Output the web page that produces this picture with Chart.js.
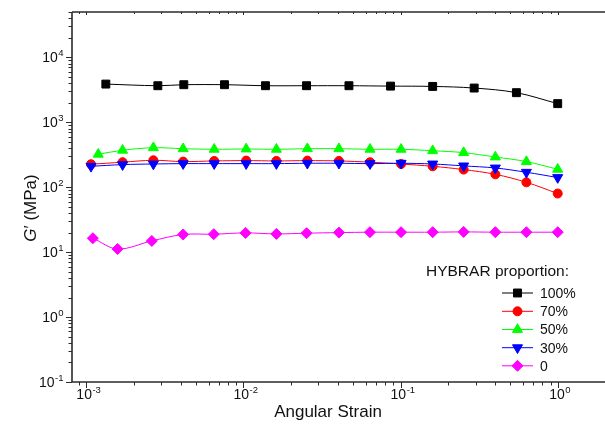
<!DOCTYPE html>
<html>
<head>
<meta charset="utf-8">
<script src="https://cdn.jsdelivr.net/npm/chart.js@4/dist/chart.umd.min.js"></script>
<style>
  html, body { margin: 0; padding: 0; background: #fff; }
  #wrap { width: 605px; height: 428px; }
</style>
</head>
<body>
<div id="wrap"><canvas id="chart" width="605" height="428"></canvas></div>
<script>
// ---- data ----
const seriesNames = ['100%', '70%', '50%', '30%', '0'];

const strain100 = [0.00133, 0.00285, 0.00417, 0.00757, 0.0138, 0.0252, 0.0469, 0.0863, 0.160, 0.294, 0.546, 1.0];
const g100 = [3880, 3660, 3795, 3795, 3660, 3660, 3660, 3610, 3570, 3370, 2860, 1940];

const strainMid = [0.00107, 0.00170, 0.00267, 0.00413, 0.00651, 0.0104, 0.0162, 0.0255, 0.0405, 0.0639, 0.1007, 0.160, 0.252, 0.401, 0.632, 1.0];
const g70 = [226, 243, 260, 248, 254, 257, 254, 257, 254, 243, 228, 210, 187, 158, 119, 80];
const strain50 = [0.00119, 0.00170, 0.00267, 0.00413, 0.00651, 0.0104, 0.0162, 0.0255, 0.0405, 0.0639, 0.1007, 0.160, 0.252, 0.401, 0.632, 1.0];
const g50 = [322, 371, 406, 392, 384, 388, 384, 392, 392, 384, 384, 365, 341, 292, 248, 189];
const g30 = [210, 223, 228, 231, 231, 231, 231, 234, 234, 231, 234, 228, 213, 198, 170, 141];
const strain0 = [0.00110, 0.00158, 0.00261, 0.00413, 0.00647, 0.0103, 0.0162, 0.0252, 0.0405, 0.0638, 0.1007, 0.160, 0.252, 0.401, 0.632, 1.0];
const g0 = [16.4, 11.2, 14.9, 18.7, 18.9, 19.8, 19.1, 19.6, 20.0, 20.3, 20.3, 20.3, 20.5, 20.3, 20.3, 20.3];

const xMin = 8.1e-4, xMax = 2.0;
const yMin = 0.1, yMax = 5e4;
const xMajors = [-3, -2, -1, 0];
const yMajors = [-1, 0, 1, 2, 3, 4];

const FONT = '"Liberation Sans", Arial, sans-serif';
const AXIS_COLOR = '#2b2b2b';

const toPts = (xs, ys) => xs.map((x, i) => ({ x, y: ys[i] }));

function series(label, xs, ys, color, style, radius, rotation, order) {
  return {
    label,
    data: toPts(xs, ys),
    borderColor: color,
    backgroundColor: color,
    borderWidth: 1,
    tension: 0.35,
    pointStyle: style,
    pointRadius: radius,
    pointHoverRadius: radius,
    pointRotation: rotation,
    pointBorderWidth: 1,
    pointBackgroundColor: color,
    pointBorderColor: color,
    order
  };
}

// "10" with a raised exponent
function supLabel(ctx, exp, x, y, align) {
  const base = '10';
  const sup = String(exp);
  ctx.font = '14px ' + FONT;
  const wb = ctx.measureText(base).width;
  ctx.font = '9.5px ' + FONT;
  const ws = ctx.measureText(sup).width;
  const left = align === 'center' ? x - (wb + ws) / 2 + 2 : x - (wb + ws);
  ctx.textAlign = 'left';
  ctx.textBaseline = 'alphabetic';
  ctx.font = '14px ' + FONT;
  ctx.fillText(base, left, y);
  ctx.font = '9.5px ' + FONT;
  ctx.fillText(sup, left + wb + 0.5, y - 6);
}

const axesPlugin = {
  id: 'originAxes',
  afterDraw(chart) {
    const ctx = chart.ctx;
    const xs = chart.scales.x, ys = chart.scales.y;
    const area = chart.chartArea;
    ctx.save();
    ctx.strokeStyle = AXIS_COLOR;
    ctx.fillStyle = '#111';

    // axis lines
    ctx.lineWidth = 1.6;
    ctx.beginPath();
    ctx.moveTo(area.left, area.top);
    ctx.lineTo(area.left, area.bottom);
    ctx.lineTo(area.right, area.bottom);
    ctx.moveTo(area.left, area.top);
    ctx.lineTo(area.right, area.top);
    ctx.stroke();

    // x ticks (bottom outward, top inward)
    ctx.lineWidth = 1;
    for (let e = -4; e <= 0; e++) {
      for (let m = 1; m <= 9; m++) {
        const v = m * Math.pow(10, e);
        if (v < xMin || v > xMax) continue;
        const px = Math.round(xs.getPixelForValue(v)) + 0.5;
        const len = m === 1 ? 6 : 3.5;
        ctx.beginPath();
        ctx.moveTo(px, area.bottom);
        ctx.lineTo(px, area.bottom + len);
        ctx.moveTo(px, area.top);
        ctx.lineTo(px, area.top + (m === 1 ? 3 : 2));
        ctx.stroke();
      }
    }
    // y ticks
    for (let e = -1; e <= 4; e++) {
      for (let m = 1; m <= 9; m++) {
        const v = m * Math.pow(10, e);
        if (v < yMin || v > yMax) continue;
        const py = Math.round(ys.getPixelForValue(v)) + 0.5;
        const len = m === 1 ? 6 : 3.5;
        ctx.beginPath();
        ctx.moveTo(area.left, py);
        ctx.lineTo(area.left - len, py);
        ctx.stroke();
      }
    }

    // tick labels
    ctx.fillStyle = '#111';
    xMajors.forEach(e => {
      supLabel(ctx, e, xs.getPixelForValue(Math.pow(10, e)), area.bottom + 17, 'center');
    });
    yMajors.forEach(e => {
      supLabel(ctx, e, area.left - 9, ys.getPixelForValue(Math.pow(10, e)) + 5, 'right');
    });

    // axis titles
    ctx.font = '17px ' + FONT;
    ctx.textAlign = 'center';
    ctx.textBaseline = 'alphabetic';
    ctx.fillText('Angular Strain', 328, 417);

    ctx.save();
    ctx.translate(30, 208);
    ctx.rotate(-Math.PI / 2);
    ctx.font = 'italic 17px ' + FONT;
    const wG = ctx.measureText('G').width;
    ctx.font = '17px ' + FONT;
    const rest = '\u2032 (MPa)';
    const wR = ctx.measureText(rest).width;
    const start = -(wG + wR) / 2;
    ctx.textAlign = 'left';
    ctx.font = 'italic 17px ' + FONT;
    ctx.fillText('G', start, 6);
    ctx.font = '17px ' + FONT;
    ctx.fillText(rest, start + wG, 6);
    ctx.restore();

    // legend
    ctx.font = '15.5px ' + FONT;
    ctx.textAlign = 'left';
    ctx.textBaseline = 'middle';
    ctx.fillText('HYBRAR proportion:', 426, 272);
    const rows = [293, 311.3, 329.5, 347.7, 365.8];
    chart.data.datasets.forEach((ds, i) => {
      const y = rows[i];
      ctx.strokeStyle = ds.borderColor;
      ctx.lineWidth = 1;
      ctx.beginPath();
      ctx.moveTo(502, y);
      ctx.lineTo(533, y);
      ctx.stroke();
      ctx.fillStyle = ds.backgroundColor;
      ctx.strokeStyle = ds.borderColor;
      Chart.helpers.drawPoint(ctx, {
        pointStyle: ds.pointStyle,
        radius: ds.pointRadius,
        rotation: ds.pointRotation,
        borderWidth: 1
      }, 517.5, y);
      ctx.fillStyle = '#111';
      ctx.font = '14px ' + FONT;
      ctx.fillText(ds.label, 540, y + 1);
    });

    ctx.restore();
  }
};

new Chart(document.getElementById('chart'), {
  type: 'line',
  data: {
    datasets: [
      series(seriesNames[0], strain100, g100, '#000000', 'rect', 5.6, 0, 4),
      series(seriesNames[1], strainMid, g70, '#ff0000', 'circle', 4.5, 0, 3),
      series(seriesNames[2], strain50, g50, '#00ff00', 'triangle', 5.8, 0, 2),
      series(seriesNames[3], strainMid, g30, '#0000ff', 'triangle', 5.8, 180, 1),
      series(seriesNames[4], strain0, g0, '#ff00ff', 'rectRot', 5.5, 0, 0)
    ]
  },
  options: {
    responsive: false,
    animation: false,
    layout: { autoPadding: false, padding: { left: 72, top: 12, right: 0, bottom: 46 } },
    plugins: {
      legend: { display: false },
      tooltip: { enabled: false }
    },
    scales: {
      x: { type: 'logarithmic', min: xMin, max: xMax, display: false },
      y: { type: 'logarithmic', min: yMin, max: yMax, display: false }
    }
  },
  plugins: [axesPlugin]
});
</script>
</body>
</html>
